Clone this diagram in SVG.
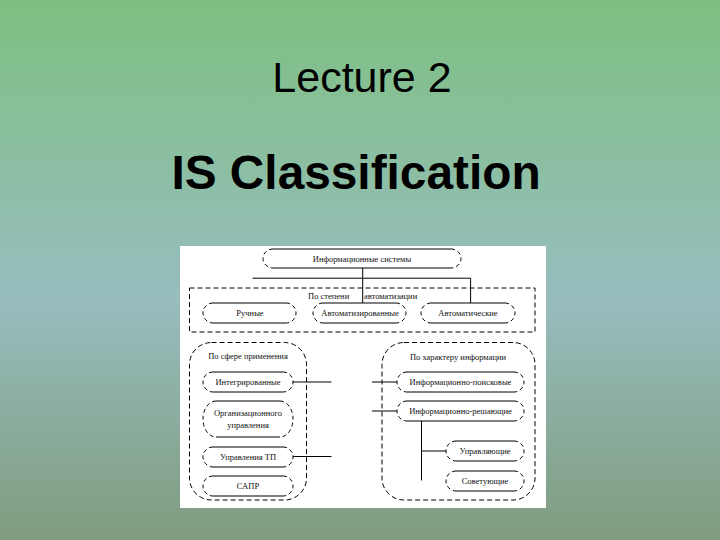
<svg xmlns="http://www.w3.org/2000/svg" width="720" height="540" viewBox="0 0 720 540">
<defs>
<linearGradient id="bg" x1="0" y1="0" x2="0" y2="1">
<stop offset="0" stop-color="#7ec081"/>
<stop offset="0.55" stop-color="#97bdbe"/>
<stop offset="1" stop-color="#7f9c7f"/>
</linearGradient>
<style>
.title{font-family:"Liberation Sans",Arial,sans-serif;fill:#000;text-anchor:middle}
.lbl{font-family:"Liberation Serif","Times New Roman",serif;font-size:8.5px;fill:#111;text-anchor:middle}
.solid{fill:none;stroke:#000;stroke-width:1}
.dash{fill:none;stroke:#000;stroke-width:1;stroke-dasharray:4 3}
.cont{fill:none;stroke:#000;stroke-width:1;stroke-dasharray:5 3}
.conn{fill:none;stroke:#000;stroke-width:1}
</style>
</defs>
<rect width="720" height="540" fill="url(#bg)"/>
<text class="title" x="362" y="92" font-size="43">Lecture 2</text>
<text class="title" x="356" y="189" font-size="47.8" font-weight="bold">IS Classification</text>
<rect x="180" y="246" width="366" height="262" fill="#fff"/>

<g id="containers">
<rect id="c-auto" class="cont" x="189.5" y="288" width="345.5" height="44"/>
<rect id="c-sphere" class="cont" x="189.5" y="342.5" width="117" height="157.5" rx="22"/>
<rect id="c-char" class="cont" x="382" y="342.5" width="153" height="157.5" rx="22"/>
</g>

<g id="connectors">
<path class="conn" d="M362.7 268 V303"/>
<path class="conn" d="M252.5 278.2 H470.6 V303"/>
<path class="conn" d="M293 382 H331.5"/>
<path class="conn" d="M293 456.5 H331.5"/>
<path class="conn" d="M372 382 H397"/>
<path class="conn" d="M372 411 H397"/>
<path class="conn" d="M421.5 421 V480.5"/>
<path class="conn" d="M421.5 451 H446"/>
</g>

<g id="n-is">
<path class="solid" d="M273 249 H451 M273 268 H451"/>
<path class="dash" d="M273 249 A10 9.5 0 0 0 273 268 M451 249 A10 9.5 0 0 1 451 268"/>
<text class="lbl" x="362" y="262">Информационные системы</text>
</g>

<g id="lbl-auto">
<text class="lbl" style="text-anchor:start"><tspan x="308" y="299">По степени</tspan><tspan x="364" y="299">автоматизации</tspan></text>
</g>

<g id="n-manual">
<path class="solid" d="M213 303 H286 M213 323 H286"/>
<path class="dash" d="M213 303 A10 10 0 0 0 213 323 M286 303 A10 10 0 0 1 286 323"/>
<text class="lbl" x="250" y="316">Ручные</text>
</g>
<g id="n-automated">
<path class="solid" d="M323 303 H396 M323 323 H396"/>
<path class="dash" d="M323 303 A10 10 0 0 0 323 323 M396 303 A10 10 0 0 1 396 323"/>
<text class="lbl" x="360" y="316">Автоматизированные</text>
</g>
<g id="n-automatic">
<path class="solid" d="M431 303 H505 M431 323 H505"/>
<path class="dash" d="M431 303 A10 10 0 0 0 431 323 M505 303 A10 10 0 0 1 505 323"/>
<text class="lbl" x="468" y="316">Автоматические</text>
</g>

<g id="lbl-sphere">
<text class="lbl" x="248" y="359">По сфере применения</text>
</g>
<g id="n-integr">
<path class="solid" d="M213 372 H283 M213 392 H283"/>
<path class="dash" d="M213 372 A10 10 0 0 0 213 392 M283 372 A10 10 0 0 1 283 392"/>
<text class="lbl" x="248" y="385">Интегрированные</text>
</g>
<g id="n-org">
<path class="solid" d="M216 401 H280 M216 437 H280"/>
<path class="dash" d="M216 401 A13 18 0 0 0 216 437 M280 401 A13 18 0 0 1 280 437"/>
<text class="lbl" x="248" y="416">Организационного</text>
<text class="lbl" x="248" y="428">управления</text>
</g>
<g id="n-tp">
<path class="solid" d="M213 447 H283 M213 467 H283"/>
<path class="dash" d="M213 447 A10 10 0 0 0 213 467 M283 447 A10 10 0 0 1 283 467"/>
<text class="lbl" x="248" y="460">Управления ТП</text>
</g>
<g id="n-sapr">
<path class="solid" d="M213 476 H283 M213 496 H283"/>
<path class="dash" d="M213 476 A10 10 0 0 0 213 496 M283 476 A10 10 0 0 1 283 496"/>
<text class="lbl" x="248" y="489">САПР</text>
</g>

<g id="lbl-char">
<text class="lbl" x="458" y="360">По характеру информации</text>
</g>
<g id="n-search">
<path class="solid" d="M407 372 H514 M407 392 H514"/>
<path class="dash" d="M407 372 A10 10 0 0 0 407 392 M514 372 A10 10 0 0 1 514 392"/>
<text class="lbl" x="460.5" y="385">Информационно-поисковые</text>
</g>
<g id="n-solve">
<path class="solid" d="M407 401 H514 M407 421 H514"/>
<path class="dash" d="M407 401 A10 10 0 0 0 407 421 M514 401 A10 10 0 0 1 514 421"/>
<text class="lbl" x="460.5" y="414">Информационно-решающие</text>
</g>
<g id="n-control">
<path class="solid" d="M456 441 H514 M456 461 H514"/>
<path class="dash" d="M456 441 A10 10 0 0 0 456 461 M514 441 A10 10 0 0 1 514 461"/>
<text class="lbl" x="485" y="454">Управляющие</text>
</g>
<g id="n-advise">
<path class="solid" d="M456 471 H514 M456 491 H514"/>
<path class="dash" d="M456 471 A10 10 0 0 0 456 491 M514 471 A10 10 0 0 1 514 491"/>
<text class="lbl" x="485" y="484">Советующие</text>
</g>
</svg>
